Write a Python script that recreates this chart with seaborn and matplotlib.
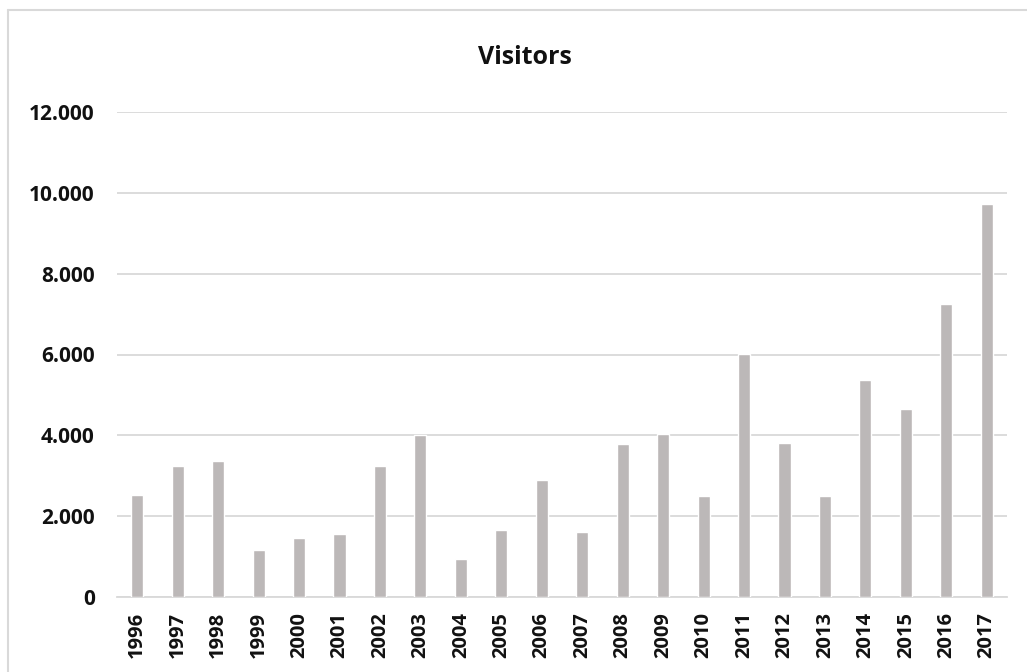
import numpy as np
import pandas as pd
import seaborn as sns
import matplotlib.pyplot as plt
from matplotlib.ticker import FuncFormatter
from matplotlib.lines import Line2D

# data
years = [str(y) for y in range(1996, 2018)]
visitors = [2510, 3240, 3350, 1160, 1450, 1560, 3240, 4010, 940, 1650, 2890,
            1600, 3780, 4030, 2490, 6010, 3800, 2490, 5370, 4650, 7250, 9720]

df = pd.DataFrame({"year": years, "visitors": visitors})

sns.set_style("white")
plt.rcParams['font.family'] = ['Open Sans', 'DejaVu Sans']

fig = plt.figure(figsize=(10.27, 6.72), dpi=100)
ax = fig.add_axes([117 / 1027, 1 - 596.7 / 672, 890 / 1027, (596.7 - 112.3) / 672])

sns.barplot(data=df, x="year", y="visitors", color="#BCB8B8", width=0.3,
            saturation=1, ax=ax, zorder=3)

ax.set_ylim(0, 12000)
ax.set_xlim(-0.5, len(years) - 0.5)
ax.set_yticks(np.arange(0, 12001, 2000))
ax.yaxis.set_major_formatter(FuncFormatter(lambda v, p: f"{int(v):,}".replace(",", ".")))
ax.grid(axis="y", color="#D9D9D9", linewidth=1.3, zorder=0)
ax.set_axisbelow(True)
for s in ["top", "right", "left"]:
    ax.spines[s].set_visible(False)
ax.spines["bottom"].set_color("#D9D9D9")
ax.spines["bottom"].set_linewidth(1.3)

ax.tick_params(axis="y", length=0, pad=16, labelsize=15, labelcolor="#111111")
ax.tick_params(axis="x", length=0, pad=11, labelsize=14.5, rotation=90, labelcolor="#111111")
for lbl in ax.get_xticklabels() + ax.get_yticklabels():
    lbl.set_fontweight("bold")
ax.set_xlabel("")
ax.set_ylabel("")

fig.text(525 / 1027, 0.915, "Visitors", ha="center", va="center",
         fontsize=18, fontweight="bold", color="#111111")

# chart area border (top and left visible)
fig.add_artist(Line2D([8 / 1027, 1.0], [1 - 10 / 672, 1 - 10 / 672],
                      color="#D9D9D9", linewidth=1.5, transform=fig.transFigure))
fig.add_artist(Line2D([8 / 1027, 8 / 1027], [0, 1 - 10 / 672],
                      color="#D9D9D9", linewidth=1.5, transform=fig.transFigure))

fig.savefig("out.png", dpi=100)
